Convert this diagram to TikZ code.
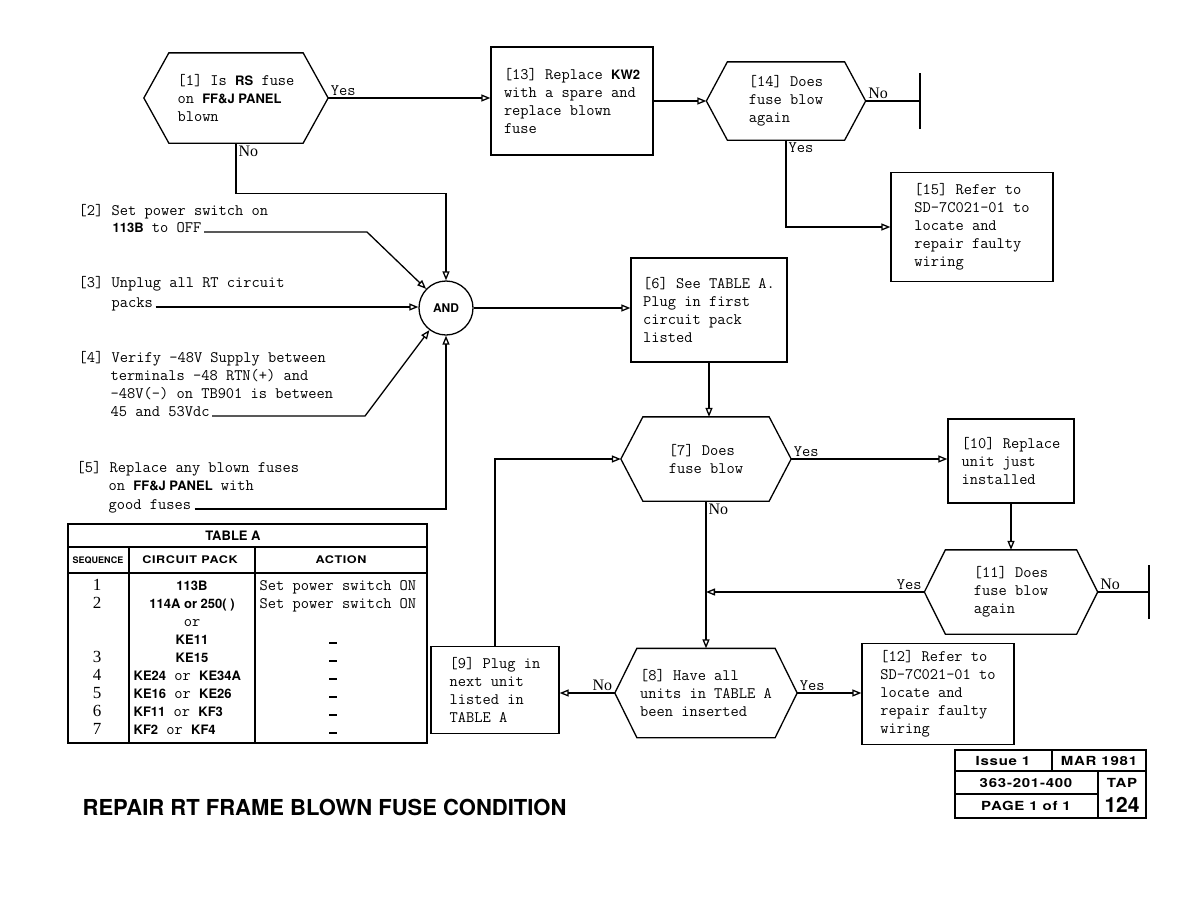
\documentclass[tikz,border=0pt]{standalone}
\usepackage{fontspec}
\usepackage{tikz}
\usetikzlibrary{arrows.meta,positioning,calc}
\newfontfamily\hv{TeX Gyre Heros}
\newfontfamily\hvwide[FakeStretch=1.2, LetterSpace=6]{TeX Gyre Heros}
\newfontfamily\tms{Liberation Serif}
\newcommand{\hw}[1]{{\hv\bfseries\fontsize{13}{18}\selectfont #1}}
\newcommand{\hexnode}[6]{%
  \node[hexa, minimum width=#3, minimum height=#4] (#1) at #2 {#6};
  \draw (#1.west) -- ([xshift=#5]#1.north west) -- ([xshift=-#5]#1.north east)
    -- (#1.east) -- ([xshift=-#5]#1.south east) -- ([xshift=#5]#1.south west) -- cycle;}

\begin{document}
\begin{tikzpicture}[x=1pt, y=-1pt, line width=1.3pt,
  font=\ttfamily\fontsize{16}{18}\selectfont,
  box/.style={draw, align=left, inner sep=0pt},
  hexa/.style={align=left, inner sep=0pt},
  steptext/.style={anchor=base west, inner sep=0pt},
  arr/.style={-{Triangle[open, length=9pt, width=7pt]}},
  endbar/.style={line width=2.8pt},
  yeslbl/.style={inner sep=2pt},
  nolbl/.style={inner sep=2pt, font=\tms\fontsize{16}{18}\selectfont},
  hd/.style={inner sep=0pt, font=\hv\bfseries\fontsize{13}{15}\selectfont},
  cell/.style={anchor=base, inner sep=0pt},
  info/.style={inner sep=0pt, font=\hvwide\bfseries\fontsize{12.5}{14}\selectfont}
]
\fill[white] (0,0) rectangle (1188,918);
\useasboundingbox (0,0) rectangle (1188,918);

% top row
\hexnode{q1}{(236,98)}{183pt}{89pt}{25pt}{[1] Is \hw{RS} fuse\\on \hw{FF\&J PANEL}\\blown}
\node[box, minimum width=162pt, minimum height=108pt] (b13) at (572,101)
  {[13] Replace \hw{KW2}\\with a spare and\\replace blown\\fuse};
\hexnode{q14}{(786,101)}{158pt}{77pt}{21pt}{[14] Does\\fuse blow\\again}
\coordinate (end14) at (920,101);
\node[box, minimum width=162pt, minimum height=109pt] (b15) at (972,227)
  {[15] Refer to\\SD-7C021-01 to\\locate and\\repair faulty\\wiring};

% steps 2 to 5
\node[steptext] (s2a) at (78,215) {[2] Set power switch on};
\node[steptext] (s2b) at (112,232) {\hw{113B} to OFF};
\node[steptext] (s3a) at (78,287) {[3] Unplug all RT circuit};
\node[steptext] (s3b) at (111,307) {packs};
\node[steptext] (s4a) at (78,362) {[4] Verify \textendash48V Supply between};
\node[steptext] (s4b) at (110,380) {terminals \textendash48 RTN(+) and};
\node[steptext] (s4c) at (110,398) {\textendash48V(\textendash) on TB901 is between};
\node[steptext] (s4d) at (110,416) {45 and 53Vdc};
\node[steptext] (s5a) at (76,472) {[5] Replace any blown fuses};
\node[steptext] (s5b) at (108,490) {on \hw{FF\&J PANEL} with};
\node[steptext] (s5c) at (108,509) {good fuses};
\coordinate (k2) at (367,232);
\coordinate (k4) at (365,416);

\node[circle, draw, minimum size=54pt, inner sep=0pt] (and) at (446,308)
  {\hw{\fontsize{12}{14}\selectfont AND}};
\node[box, minimum width=156pt, minimum height=104pt] (b6) at (709,310)
  {[6] See TABLE A.\\Plug in first\\circuit pack\\listed};

% loop part
\hexnode{q7}{(706,459)}{169pt}{83pt}{22pt}{[7] Does\\fuse blow}
\node[box, minimum width=126pt, minimum height=84pt] (b10) at (1011,461)
  {[10] Replace\\unit just\\installed};
\hexnode{q11}{(1011,592)}{172pt}{83pt}{21pt}{[11] Does\\fuse blow\\again}
\coordinate (end11) at (1149,592);
\hexnode{q8}{(706,693)}{181pt}{88pt}{22pt}{[8] Have all\\units in TABLE A\\been inserted}
\node[box, minimum width=128pt, minimum height=87pt] (b9) at (495,690)
  {[9] Plug in\\next unit\\listed in\\TABLE A};
\node[box, minimum width=152pt, minimum height=101pt] (b12) at (938,694)
  {[12] Refer to\\SD-7C021-01 to\\locate and\\repair faulty\\wiring};

% connectors
\draw[arr] (q1.east) -- (q1.east -| b13.west);
\node[yeslbl, anchor=south west] (y1) at (q1.east) {Yes};
\draw[arr] (q1.south) -- ++(0,50) -| (and.north);
\node[nolbl, anchor=north west] (n1) at (q1.south) {No};
\draw[arr] (b13.east) -- (q14.west);
\draw (q14.east) -- (end14);
\draw[endbar] ([yshift=-28pt]end14) -- ([yshift=28pt]end14);
\node[nolbl, anchor=south west] (n14) at (q14.east) {No};
\draw[arr] (q14.south) |- (b15.west);
\node[yeslbl, anchor=north west] (y14) at (q14.south) {Yes};

\draw[arr] ([xshift=2pt]s2b.base east) -- (k2) -- (and);
\draw[arr] ([xshift=2pt]s3b.base east) -- (s3b.base east -| and.west);
\draw[arr] ([xshift=2pt]s4d.base east) -- (k4) -- (and);
\draw[arr] ([xshift=3pt]s5c.base east) -| (and.south);
\draw[arr] (and.east) -- (and.east -| b6.west);
\draw[arr] (b6.south) -- (b6.south |- q7.north);

\draw[arr] (q7.east) -- (q7.east -| b10.west);
\node[yeslbl, anchor=south west] (y7) at (q7.east) {Yes};
\draw[arr] (q7.south) -- (q8.north);
\node[nolbl, anchor=north west] (n7) at (q7.south) {No};
\draw[arr] (b10.south) -- (q11.north);
\draw[arr] (q11.west) -- (q11.west -| q7.south);
\node[yeslbl, anchor=south east] (y11) at (q11.west) {Yes};
\draw (q11.east) -- (end11);
\draw[endbar] ([yshift=-27pt]end11) -- ([yshift=27pt]end11);
\node[nolbl, anchor=south west] (n11) at (q11.east) {No};
\draw[arr] (q8.west) -- (q8.west -| b9.east);
\node[nolbl, anchor=south east] (n8) at (q8.west) {No};
\draw[arr] (q8.east) -- (q8.east -| b12.west);
\node[yeslbl, anchor=south west] (y8) at (q8.east) {Yes};
\draw[arr] (b9.north) |- (q7.west);

% table A
\draw (68,524) rectangle (427,743);
\draw (68,547) -- (427,547);
\draw (68,573) -- (427,573);
\draw (129,547) -- (129,743);
\draw (255,547) -- (255,743);
\node[hd] (tabtitle) at (233,536) {TABLE A};
\node[hd, font=\hv\bfseries\fontsize{9}{10}\selectfont] (hseq) at (98,560) {SEQUENCE};
\node[hd, font=\hvwide\bfseries\fontsize{10.5}{12}\selectfont] (hpack) at (190,560) {CIRCUIT PACK};
\node[hd, font=\hvwide\bfseries\fontsize{10.5}{12}\selectfont] (hact) at (341,560) {ACTION};
\foreach \n/\yy in {1/590,2/608,3/662,4/680,5/698,6/716,7/734}
  \node[cell, font=\tms\fontsize{17}{18}\selectfont] (seq\n) at (97,\yy) {\n};
\node[cell] (cp1) at (192,590) {\hw{113B}};
\node[cell] (cp2) at (192,608) {\hw{114A or 250( )}};
\node[cell] (cpor) at (192,626) {or};
\node[cell] (cp2b) at (192,644) {\hw{KE11}};
\node[cell] (cp3) at (192,662) {\hw{KE15}};
\node[cell, anchor=base west] (cp4) at (133,680) {\hw{KE24} or \hw{KE34A}};
\node[cell, anchor=base west] (cp5) at (133,698) {\hw{KE16} or \hw{KE26}};
\node[cell, anchor=base west] (cp6) at (133,716) {\hw{KF11} or \hw{KF3}};
\node[cell, anchor=base west] (cp7) at (133,734) {\hw{KF2} or \hw{KF4}};
\node[cell, anchor=base west] (act1) at (259,590) {Set power switch ON};
\node[cell, anchor=base west] (act2) at (259,608) {Set power switch ON};
\foreach \yy [count=\i] in {644,662,680,698,716,734}
  \node[cell] (dash\i) at (333,\yy) {\rule{8pt}{1.6pt}};

% title and issue block
\node[anchor=base west, inner sep=0pt, font=\hv\bfseries\fontsize{22}{26}\selectfont] (title)
  at (82,815) {REPAIR RT FRAME BLOWN FUSE CONDITION};
\draw (955,750) rectangle (1146,818);
\draw (955,771) -- (1146,771);
\draw (955,794) -- (1098,794);
\draw (1052,750) -- (1052,771);
\draw (1098,771) -- (1098,818);
\node[info] (iss) at (1003,761) {Issue 1};
\node[info] (date) at (1099,761) {MAR 1981};
\node[info] (docno) at (1026,783) {363-201-400};
\node[info] (tap) at (1122,783) {TAP};
\node[info] (pg) at (1026,806) {PAGE 1 of 1};
\node[info, font=\hv\bfseries\fontsize{21}{22}\selectfont] (tapno) at (1122,805) {124};
\end{tikzpicture}
\end{document}
